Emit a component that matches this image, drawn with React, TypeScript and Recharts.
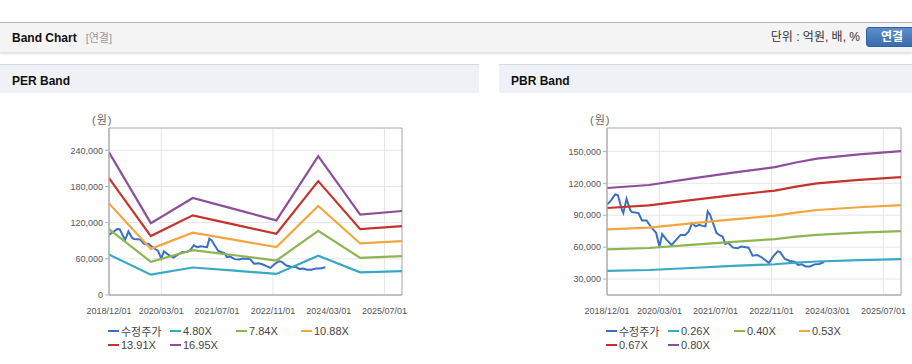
import { LineChart, Line, XAxis, YAxis, CartesianGrid, ReferenceArea } from "recharts";

// x axis
const xTickLabels = ["2018/12/01", "2020/03/01", "2021/07/01", "2022/11/01", "2024/03/01", "2025/07/01"];
const xStart = "2018/12/01";
const xEnd = "2025/12/01";

// 수정주가 (shared by both panels)
const priceDates = [
  "2018-12-01", "2019-01-05", "2019-02-10", "2019-03-05", "2019-04-10", "2019-04-22", "2019-05-20",
  "2019-06-20", "2019-07-05", "2019-09-01", "2019-10-01", "2019-11-10", "2019-12-25", "2020-02-01",
  "2020-03-01", "2020-03-25", "2020-05-01", "2020-06-15", "2020-09-01", "2020-10-10", "2020-11-10",
  "2020-12-10", "2021-01-10", "2021-02-10", "2021-03-10", "2021-04-05", "2021-04-25", "2021-05-15",
  "2021-07-10", "2021-08-10", "2021-09-01", "2021-09-25", "2021-10-20", "2021-12-01", "2022-01-10",
  "2022-02-10", "2022-04-15", "2022-05-20", "2022-07-01", "2022-08-05", "2022-09-15", "2022-10-10",
  "2022-11-15", "2022-12-25", "2023-01-15", "2023-02-25", "2023-04-10", "2023-05-20", "2023-06-20",
  "2023-07-20", "2023-08-25", "2023-10-01", "2023-11-10", "2023-12-20", "2024-02-01",
];
const priceValues = [
  100000, 104000, 109500, 109000, 95000, 92000, 105500,
  95000, 93000, 92000, 85000, 85000, 78000, 73500,
  60500, 72300, 67000, 62000, 71500, 71500, 74500,
  82500, 79500, 81000, 80000, 79500, 93500, 90500,
  73500, 71000, 70000, 63000, 64000, 59500, 59000,
  60500, 59500, 52000, 52500, 50500, 47200, 45000,
  51300, 56000, 55300, 48800, 47000, 46300, 43200,
  43800, 41900, 41900, 43800, 44100, 46000,
];

// PER band
const perDates = ["2018-12-01", "2019-12-01", "2020-12-01", "2021-12-01", "2022-12-01", "2023-12-01", "2024-12-01", "2025-12-01"];
const perNames = ["4.80X", "7.84X", "10.88X", "13.91X", "16.95X"];
const per480 = [67000, 33700, 45600, 40300, 35000, 65200, 37700, 39500];
const per784 = [109400, 55100, 74500, 65900, 57200, 106500, 61600, 64400];
const per1088 = [151800, 76500, 103400, 91400, 79400, 147700, 85500, 89400];
const per1391 = [194000, 97800, 132100, 116800, 101500, 188900, 109300, 114300];
const per1695 = [236500, 119200, 161000, 142400, 123700, 230200, 133200, 139300];
const perYTicks = [0, 60000, 120000, 180000, 240000];

// PBR band
const pbrDates = ["2018-12-01", "2019-12-01", "2020-12-01", "2021-12-01", "2022-12-01", "2023-06-01", "2023-12-01", "2024-12-01", "2025-12-01"];
const pbrNames = ["0.26X", "0.40X", "0.53X", "0.67X", "0.80X"];
const pbr026 = [37600, 38500, 40400, 42300, 43900, 45400, 46500, 47800, 48800];
const pbr040 = [57800, 59200, 62200, 65000, 67600, 69800, 71600, 73600, 75100];
const pbr053 = [76600, 78400, 82400, 86100, 89600, 92500, 94900, 97500, 99500];
const pbr067 = [96800, 99200, 104200, 108900, 113200, 116900, 119900, 123300, 125800];
const pbr080 = [115600, 118400, 124400, 130000, 135200, 139600, 143200, 147200, 150200];
const pbrYTicks = [30000, 60000, 90000, 120000, 150000];

const priceName = "수정주가";
const colors = ["#3a6fc3", "#38a9c4", "#8db552", "#f1a73d", "#c6332c", "#8d4f9c"];

const toTime = (s: string) => Date.parse(s.replace(/\//g, "-"));
const xTicks = xTickLabels.map(toTime);
const fmtDate = (t: number) => {
  const d = new Date(t);
  const mm = String(d.getUTCMonth() + 1).padStart(2, "0");
  const dd = String(d.getUTCDate()).padStart(2, "0");
  return `${d.getUTCFullYear()}/${mm}/${dd}`;
};

const priceRows = priceDates.map((d, i) => ({ t: toTime(d), v: priceValues[i] }));
const makeBands = (dates: string[], names: string[], values: number[][]) =>
  dates.map((d, i) => {
    const row: Record<string, number> = { t: toTime(d) };
    names.forEach((n, k) => (row[n] = values[k][i]));
    return row;
  });
const perRows = makeBands(perDates, perNames, [per480, per784, per1088, per1391, per1695]);
const pbrRows = makeBands(pbrDates, pbrNames, [pbr026, pbr040, pbr053, pbr067, pbr080]);

const FONT = '"Liberation Sans", Arial, "Noto Sans CJK KR", sans-serif';
const KFONT = '"Liberation Sans", "Noto Sans CJK KR", sans-serif';

interface BandProps {
  title: string;
  left: number;
  width: number;
  axisWidth: number;
  marginRight: number;
  rows: Record<string, number>[];
  names: string[];
  yDomain: [number, number];
  yTicks: number[];
}

function BandPanel({ title, left, width, axisWidth, marginRight, rows, names, yDomain, yTicks }: BandProps) {
  const legendItems = [priceName, ...names];
  const colOffsets = [0, 62, 128, 193];
  return (
    <div style={{ position: "absolute", left, top: 64, width, height: 300 }}>
      {/* panel title bar */}
      <div
        style={{
          position: "absolute",
          left: 0,
          top: 0,
          width,
          height: 29,
          background: "#eef1f6",
          borderTop: "1px solid #d6dae0",
          fontFamily: FONT,
          fontWeight: "bold",
          fontSize: 12,
          lineHeight: "28px",
          paddingLeft: 12,
          paddingTop: 2,
          boxSizing: "border-box",
          color: "#111",
        }}
      >
        {title}
      </div>

      {/* unit label */}
      <div
        style={{
          position: "absolute",
          left: axisWidth - 17,
          top: 47,
          fontFamily: KFONT,
          fontSize: 11,
          color: "#666",
          letterSpacing: 1,
        }}
      >
        (원)
      </div>

      <div style={{ position: "absolute", left: 0, top: 29 }}>
        <LineChart
          width={width}
          height={232}
          margin={{ top: 35, right: marginRight, bottom: 0, left: 0 }}
        >
          <CartesianGrid stroke="#e6e6e6" />
          <XAxis
            dataKey="t"
            type="number"
            scale="time"
            domain={[toTime(xStart), toTime(xEnd)]}
            ticks={xTicks}
            tickFormatter={fmtDate}
            allowDataOverflow
            height={30}
            stroke="#b0b0b0"
            tickLine={false}
            tickMargin={7}
            tick={{ fontSize: 9, fill: "#555", fontFamily: FONT }}
          />
          <YAxis
            type="number"
            width={axisWidth}
            domain={yDomain}
            ticks={yTicks}
            allowDataOverflow
            stroke="#b0b0b0"
            tickSize={4}
            tickMargin={2}
            tickFormatter={(v: number) => v.toLocaleString("en-US")}
            tick={{ fontSize: 9, fill: "#555", fontFamily: FONT }}
          />
          <ReferenceArea
            x1={toTime(xStart)}
            x2={toTime(xEnd)}
            y1={yDomain[0]}
            y2={yDomain[1]}
            fill="none"
            stroke="#b0b0b0"
            strokeOpacity={1}
          />
          <Line
            data={priceRows}
            dataKey="v"
            name={priceName}
            stroke={colors[0]}
            strokeWidth={2}
            dot={false}
            type="linear"
            isAnimationActive={false}
          />
          {names.map((n, i) => (
            <Line
              key={n}
              data={rows}
              dataKey={n}
              name={n}
              stroke={colors[i + 1]}
              strokeWidth={2.2}
              dot={false}
              type="linear"
              isAnimationActive={false}
            />
          ))}
        </LineChart>
      </div>

      {/* legend */}
      {legendItems.map((name, i) => (
        <div
          key={name}
          style={{
            position: "absolute",
            left: axisWidth - 1 + colOffsets[i % 4],
            top: i < 4 ? 260 : 273.5,
            height: 14,
            display: "flex",
            alignItems: "center",
            fontFamily: KFONT,
            fontSize: 11,
            color: "#444",
            whiteSpace: "nowrap",
          }}
        >
          <span style={{ display: "inline-block", width: 11, height: 2, background: colors[i], marginRight: 2 }} />
          {name}
        </div>
      ))}
    </div>
  );
}

export default function App() {
  return (
    <div
      style={{
        position: "absolute",
        left: 0,
        top: 0,
        width: 912,
        height: 364,
        overflow: "hidden",
        background: "#fff",
      }}
    >
      {/* section header */}
      <div
        style={{
          position: "absolute",
          left: 0,
          top: 22,
          width: 912,
          height: 29,
          background: "#f4f4f4",
          borderTop: "1px solid #b8b8b8",
          boxShadow: "0 2px 2px rgba(0,0,0,0.13)",
        }}
      >
        <span
          style={{
            position: "absolute",
            left: 12,
            top: 1,
            lineHeight: "29px",
            fontFamily: FONT,
            fontWeight: "bold",
            fontSize: 12,
            color: "#111",
          }}
        >
          Band Chart
          <span style={{ fontWeight: "normal", color: "#999", marginLeft: 9, fontFamily: KFONT, fontSize: 11 }}>[연결]</span>
        </span>
        <span
          style={{
            position: "absolute",
            right: 52,
            top: 0,
            lineHeight: "29px",
            fontFamily: KFONT,
            fontSize: 12,
            color: "#333",
          }}
        >
          단위 : 억원, 배, %
        </span>
        <div
          style={{
            position: "absolute",
            left: 866,
            top: 4,
            width: 52,
            height: 20,
            boxSizing: "border-box",
            borderRadius: 3,
            border: "1px solid #2f5f9e",
            background: "linear-gradient(#5b8ccb, #3a6cae)",
            color: "#fff",
            fontFamily: KFONT,
            fontWeight: "bold",
            fontSize: 12,
            lineHeight: "18px",
            textAlign: "center",
          }}
        >
          연결
        </div>
      </div>

      <BandPanel
        title="PER Band"
        left={0}
        width={479}
        axisWidth={109}
        marginRight={77}
        rows={perRows}
        names={perNames}
        yDomain={[0, 277000]}
        yTicks={perYTicks}
      />
      <BandPanel
        title="PBR Band"
        left={499}
        width={413}
        axisWidth={108}
        marginRight={11}
        rows={pbrRows}
        names={pbrNames}
        yDomain={[15000, 172000]}
        yTicks={pbrYTicks}
      />
    </div>
  );
}
